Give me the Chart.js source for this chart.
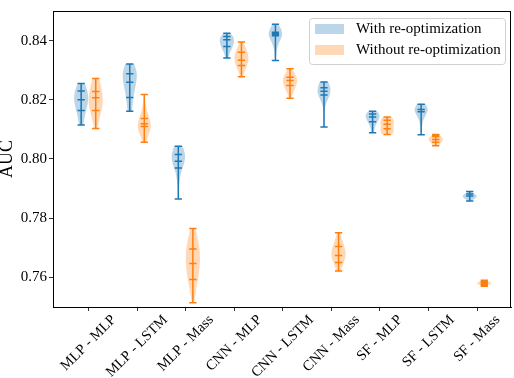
<!DOCTYPE html>
<html>
<head>
<meta charset="utf-8">
<script src="https://cdn.jsdelivr.net/npm/chart.js@4.4.1/dist/chart.umd.min.js"></script>
<style>
  html, body { margin: 0; padding: 0; background: #fff; }
  #wrap { width: 514px; height: 378px; }
</style>
</head>
<body>
<div id="wrap"><canvas id="violin-chart" width="514" height="378"></canvas></div>
<script>
// Model - task pairs on the x axis
var categories = ["MLP - MLP", "MLP - LSTM", "MLP - Mass", "CNN - MLP", "CNN - LSTM",
                  "CNN - Mass", "SF - MLP", "SF - LSTM", "SF - Mass"];
var seriesLabels = ["With re-optimization", "Without re-optimization"];
var yTicks = [0.76, 0.78, 0.80, 0.82, 0.84];

// With re-optimization: extremes, inner lines, body profile (bottom -> top, relative width)
var withMin = [0.8115, 0.8161, 0.7865, 0.8341, 0.8333, 0.8108, 0.8089, 0.8082, 0.7858];
var withMax = [0.8255, 0.8321, 0.8043, 0.8425, 0.8455, 0.8260, 0.8161, 0.8185, 0.7890];
var withLines = [
    [0.8230, 0.8200, 0.8164],
    [0.8288, 0.8259, 0.8208],
    [0.8015, 0.7992, 0.7970],
    [0.8414, 0.8403, 0.8380],
    [0.8428, 0.8424, 0.8420, 0.8416],
    [0.8241, 0.8229, 0.8216],
    [0.8152, 0.8142, 0.8126],
    [0.8167, 0.8160],
    [0.7882, 0.7875]
];
var withShape = [
    [0.3, 0.45, 0.65, 0.9, 1.0, 0.85, 0.5],
    [0.3, 0.4, 0.55, 0.75, 0.95, 1.0, 0.6],
    [0.05, 0.08, 0.15, 0.35, 0.8, 1.0, 0.6],
    [0.2, 0.35, 0.6, 0.85, 1.0, 0.95, 0.5],
    [0.05, 0.1, 0.2, 0.5, 0.95, 0.9, 0.4],
    [0.03, 0.05, 0.08, 0.2, 0.7, 1.0, 0.6],
    [0.15, 0.25, 0.4, 0.65, 0.9, 1.0, 0.6],
    [0.05, 0.08, 0.15, 0.3, 0.7, 1.0, 0.6],
    [0.2, 0.5, 0.85, 1.0, 0.85, 0.5, 0.2]
];

// Without re-optimization
var withoutMin = [0.8103, 0.8057, 0.7514, 0.8278, 0.8205, 0.7622, 0.8083, 0.8045, 0.7570];
var withoutMax = [0.8272, 0.8218, 0.7765, 0.8395, 0.8305, 0.7751, 0.8142, 0.8083, 0.7590];
var withoutLines = [
    [0.8228, 0.8207, 0.8164],
    [0.8137, 0.8119, 0.8110],
    [0.7696, 0.7647, 0.7593],
    [0.8361, 0.8334, 0.8316],
    [0.8276, 0.8265, 0.8248],
    [0.7704, 0.7674, 0.7650],
    [0.8131, 0.8117, 0.8102],
    [0.8079, 0.8076, 0.8066, 0.8057],
    [0.7585, 0.7580, 0.7575]
];
var withoutShape = [
    [0.2, 0.45, 0.75, 1.0, 0.95, 0.75, 0.45],
    [0.25, 0.6, 1.0, 0.7, 0.35, 0.15, 0.08],
    [0.15, 0.4, 0.75, 0.95, 1.0, 0.75, 0.35],
    [0.2, 0.45, 0.8, 1.0, 0.9, 0.6, 0.25],
    [0.15, 0.35, 0.7, 0.95, 1.0, 0.65, 0.3],
    [0.3, 0.6, 0.95, 1.0, 0.75, 0.45, 0.2],
    [0.7, 0.95, 0.9, 0.85, 0.95, 0.9, 0.6],
    [0.35, 0.55, 0.8, 1.0, 0.95, 0.7, 0.5],
    [0.3, 0.6, 0.9, 1.0, 0.9, 0.6, 0.3]
];

var blue = "#1f77b4", orange = "#ff7f0e";
var blueFill = "rgba(31, 119, 180, 0.3)", orangeFill = "rgba(255, 127, 14, 0.3)";
var serif = "'Liberation Serif', 'Times New Roman', serif";

function drawBody(ctx, xs, ys, pos, lo, hi, shape, color) {
    var n = shape.length, half = 0.15;
    var right = [], left = [];
    for (var k = 0; k < n; k++) {
        var y = ys.getPixelForValue(lo + (hi - lo) * k / (n - 1));
        right.push([xs.getPixelForValue(pos + half * shape[k]), y]);
        left.push([xs.getPixelForValue(pos - half * shape[k]), y]);
    }
    left.reverse();
    ctx.beginPath();
    ctx.moveTo(left[n - 1][0], left[n - 1][1]);
    [right, left].forEach(function (side) {
        ctx.lineTo(side[0][0], side[0][1]);
        for (var k = 1; k < n - 1; k++) {
            var mx = (side[k][0] + side[k + 1][0]) / 2, my = (side[k][1] + side[k + 1][1]) / 2;
            ctx.quadraticCurveTo(side[k][0], side[k][1], mx, my);
        }
        ctx.lineTo(side[n - 1][0], side[n - 1][1]);
    });
    ctx.closePath();
    ctx.fillStyle = color;
    ctx.fill();
}

function drawLines(ctx, xs, ys, pos, lo, hi, inner, color) {
    var x0 = xs.getPixelForValue(pos - 0.075), x1 = xs.getPixelForValue(pos + 0.075);
    var xc = xs.getPixelForValue(pos);
    ctx.strokeStyle = color;
    ctx.lineWidth = 1.5;
    ctx.beginPath();
    ctx.moveTo(xc, ys.getPixelForValue(lo));
    ctx.lineTo(xc, ys.getPixelForValue(hi));
    [lo, hi].concat(inner).forEach(function (v) {
        var y = ys.getPixelForValue(v);
        ctx.moveTo(x0, y);
        ctx.lineTo(x1, y);
    });
    ctx.stroke();
}

var violinPlugin = {
    id: "violins",
    afterDatasetsDraw: function (chart) {
        var ctx = chart.ctx, xs = chart.scales.x, ys = chart.scales.y;
        var groups = [
            {off: -0.15, min: withMin, max: withMax, lines: withLines, shape: withShape, line: blue, fill: blueFill},
            {off: 0.15, min: withoutMin, max: withoutMax, lines: withoutLines, shape: withoutShape, line: orange, fill: orangeFill}
        ];
        ctx.save();
        groups.forEach(function (g) {
            categories.forEach(function (c, i) {
                drawBody(ctx, xs, ys, i + 1 + g.off, g.min[i], g.max[i], g.shape[i], g.fill);
            });
            categories.forEach(function (c, i) {
                drawLines(ctx, xs, ys, i + 1 + g.off, g.min[i], g.max[i], g.lines[i], g.line);
            });
        });
        ctx.restore();
    },
    afterDraw: function (chart) {
        var ctx = chart.ctx, xs = chart.scales.x, a = chart.chartArea;
        ctx.save();
        // frame
        ctx.strokeStyle = "#000";
        ctx.lineWidth = 1;
        ctx.strokeRect(Math.round(a.left) + 0.5, Math.round(a.top) + 0.5,
                       Math.round(a.right - a.left) - 1, Math.round(a.bottom - a.top));

        // rotated category labels, centred under the ticks
        ctx.font = "14.5px " + serif;
        ctx.fillStyle = "#000";
        ctx.textAlign = "center";
        ctx.textBaseline = "middle";
        categories.forEach(function (c, i) {
            var w = ctx.measureText(c).width;
            var cx = xs.getPixelForValue(i + 1);
            var cy = a.bottom + 6 + (w + 13) * 0.3536;
            ctx.save();
            ctx.translate(cx, cy);
            ctx.rotate(-Math.PI / 4);
            ctx.fillText(c, 0, 0);
            ctx.restore();
        });

        // legend box
        ctx.font = "15px " + serif;
        var lx = a.right - 202, ly = a.top + 7, lw = 196, lh = 46;
        ctx.beginPath();
        ctx.roundRect(lx + 0.5, ly + 0.5, lw, lh, 3);
        ctx.fillStyle = "rgba(255, 255, 255, 0.8)";
        ctx.fill();
        ctx.strokeStyle = "#d0d0d0";
        ctx.lineWidth = 1;
        ctx.stroke();
        [blueFill, orangeFill].forEach(function (f, k) {
            var ry = ly + 6 + k * 21;
            ctx.fillStyle = f;
            ctx.fillRect(lx + 6, ry, 29, 10);
            ctx.fillStyle = "#000";
            ctx.textAlign = "left";
            ctx.fillText(seriesLabels[k], lx + 47, ry + 5);
        });
        ctx.restore();
    }
};

var ctx = document.getElementById("violin-chart").getContext("2d");
var tickGrid = {display: true, drawOnChartArea: false, drawTicks: true, tickLength: 4,
                tickColor: "#000", tickWidth: 0.8, color: "#000"};
var myChart = new Chart(ctx, {
    type: "scatter",
    data: { datasets: [] },
    options: {
        responsive: false,
        animation: false,
        layout: { padding: { top: 3, right: 3, left: 0, bottom: 0 } },
        plugins: { legend: { display: false }, tooltip: { enabled: false } },
        scales: {
            x: {
                type: "linear", min: 0.27, max: 9.7,
                afterBuildTicks: function (s) { s.ticks = categories.map(function (c, i) { return {value: i + 1}; }); },
                afterFit: function (s) { s.height = 71; },
                ticks: { display: false },
                grid: tickGrid,
                border: { display: true, color: "#000", width: 1 }
            },
            y: {
                type: "linear", min: 0.75, max: 0.85,
                afterBuildTicks: function (s) { s.ticks = yTicks.map(function (v) { return {value: v}; }); },
                afterFit: function (s) { s.width = 53; },
                ticks: {
                    color: "#000", padding: 2,
                    font: { family: serif, size: 15 },
                    callback: function (v) { return v.toFixed(2); }
                },
                grid: tickGrid,
                border: { display: true, color: "#000", width: 1 },
                title: {
                    display: true, text: "AUC", color: "#000", padding: 0,
                    font: { family: serif, size: 18, lineHeight: 0.8 }
                }
            }
        }
    },
    plugins: [violinPlugin]
});
</script>
</body>
</html>
